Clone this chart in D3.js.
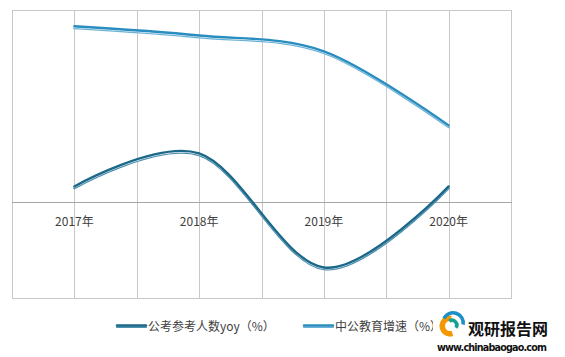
<!DOCTYPE html>
<html><head><meta charset="utf-8">
<script src="https://cdn.jsdelivr.net/npm/d3@7"></script>
<style>body{margin:0;background:#fff}svg{display:block}</style>
</head><body>
<script>
const categories = ["2017年","2018年","2019年","2020年"];
const applicantsYoy = [3.9, 12.5, -17.2, 3.9];
const offcnGrowth = [45.6, 43.2, 39.1, 19.8];
const seriesNames = ["公考参考人数yoy（%）","中公教育增速（%）"];
const yDomain = [-25, 50];

(function(){
const W = 565, H = 357;
const svg = d3.select("body").append("svg").attr("width", W).attr("height", H);
const pl = 12, pr = 511, pt = 10, pb = 298;
const x = d3.scaleBand().domain(categories).range([pl, pr]).padding(0);
const y = d3.scaleLinear().domain(yDomain).range([pb, pt]);
const font = "'Noto Sans CJK SC','Noto Sans',sans-serif";

const vx = [];
categories.forEach(c => { vx.push(x(c)); vx.push(x(c) + x.bandwidth()/2); });
vx.push(pr);
svg.append("g").selectAll("line").data(vx).join("line")
  .attr("x1", d => Math.round(d)+0.5).attr("x2", d => Math.round(d)+0.5)
  .attr("y1", pt).attr("y2", pb)
  .attr("stroke", "#c8c8c8").attr("stroke-width", 1);
[pt, pb].forEach(v => svg.append("line").attr("x1", pl).attr("x2", pr+1)
  .attr("y1", v+0.5).attr("y2", v+0.5).attr("stroke", "#c8c8c8"));
svg.append("line").attr("x1", pl).attr("x2", pr+1)
  .attr("y1", Math.round(y(0))+0.5).attr("y2", Math.round(y(0))+0.5)
  .attr("stroke", "#a6a6a6").attr("stroke-width", 1);

const xAxis = d3.axisBottom(x).tickSize(0).tickPadding(0);
const ax = svg.append("g").attr("transform", `translate(0,${y(0)+15})`).call(xAxis);
ax.select(".domain").remove();
ax.selectAll("text").attr("font-family", font).attr("font-size", 12).attr("fill", "#404040");

const cx = c => x(c) + x.bandwidth()/2;
const line = d3.line().x((d,i) => cx(categories[i])).y(d => y(d)).curve(d3.curveCatmullRom.alpha(0));

function drawSeries(data, dark, light) {
  const g = svg.append("g");
  g.append("path").attr("d", line(data)).attr("transform","translate(0,1.2)")
    .attr("fill","none").attr("stroke", light).attr("stroke-width", 2.2).attr("stroke-linecap","round");
  g.append("path").attr("d", line(data)).attr("transform","translate(0,0.6)")
    .attr("fill","none").attr("stroke", "#ffffff").attr("stroke-width", 1).attr("stroke-linecap","round");
  g.append("path").attr("d", line(data)).attr("transform","translate(0,-0.6)")
    .attr("fill","none").attr("stroke", dark).attr("stroke-width", 2.4).attr("stroke-linecap","round");
}
drawSeries(applicantsYoy, "#1c6888", "#4d8fae");
drawSeries(offcnGrowth, "#2a8dbf", "#6cb2d6");

const legend = [
  {name: seriesNames[0], x: 117, dark: "#1c6888", light: "#4d8fae"},
  {name: seriesNames[1], x: 304, dark: "#2a8dbf", light: "#6cb2d6"}
];
legend.forEach(l => {
  const ly = 326;
  svg.append("line").attr("x1", l.x).attr("x2", l.x+29).attr("y1", ly+1).attr("y2", ly+1)
    .attr("stroke", l.light).attr("stroke-width", 2.2).attr("stroke-linecap","round");
  svg.append("line").attr("x1", l.x).attr("x2", l.x+29).attr("y1", ly-0.6).attr("y2", ly-0.6)
    .attr("stroke", l.dark).attr("stroke-width", 2.4).attr("stroke-linecap","round");
  svg.append("text").attr("x", l.x+31).attr("y", ly+4.5).text(l.name)
    .attr("font-family", font).attr("font-size", 12).attr("fill", "#404040");
});

const wm = svg.append("g");
wm.append("rect").attr("x", 433).attr("y", 311).attr("width", 34).attr("height", 28).attr("fill", "#fff");
const lg = wm.append("g").attr("transform", "translate(450,326)");
lg.append("path").attr("d", d3.arc()({innerRadius: 5, outerRadius: 10.5, startAngle: Math.PI*0.9, endAngle: Math.PI*2.05}))
  .attr("fill", "#f39800");
lg.append("path").attr("d", d3.arc()({innerRadius: 8.5, outerRadius: 12, startAngle: -Math.PI*0.35, endAngle: Math.PI*0.55}))
  .attr("fill", "#1b8fc6").attr("transform","translate(3,-3)");
lg.append("path").attr("d", d3.arc()({innerRadius: 3, outerRadius: 6.5, startAngle: -Math.PI*0.2, endAngle: Math.PI*0.7}))
  .attr("fill", "#1ba08f").attr("transform","translate(2,-1)");
wm.append("text").attr("x", 468).attr("y", 335).text("观研报告网")
  .attr("font-family", font).attr("font-weight", "bold").attr("font-size", 16).attr("fill", "#111");
wm.append("text").attr("x", 437).attr("y", 351).text("www.chinabaogao.com")
  .attr("font-family", "'DejaVu Sans',sans-serif").attr("font-weight", "bold").attr("font-size", 9.6)
  .attr("textLength", 110).attr("fill", "#111");
})();
</script>
</body></html>
